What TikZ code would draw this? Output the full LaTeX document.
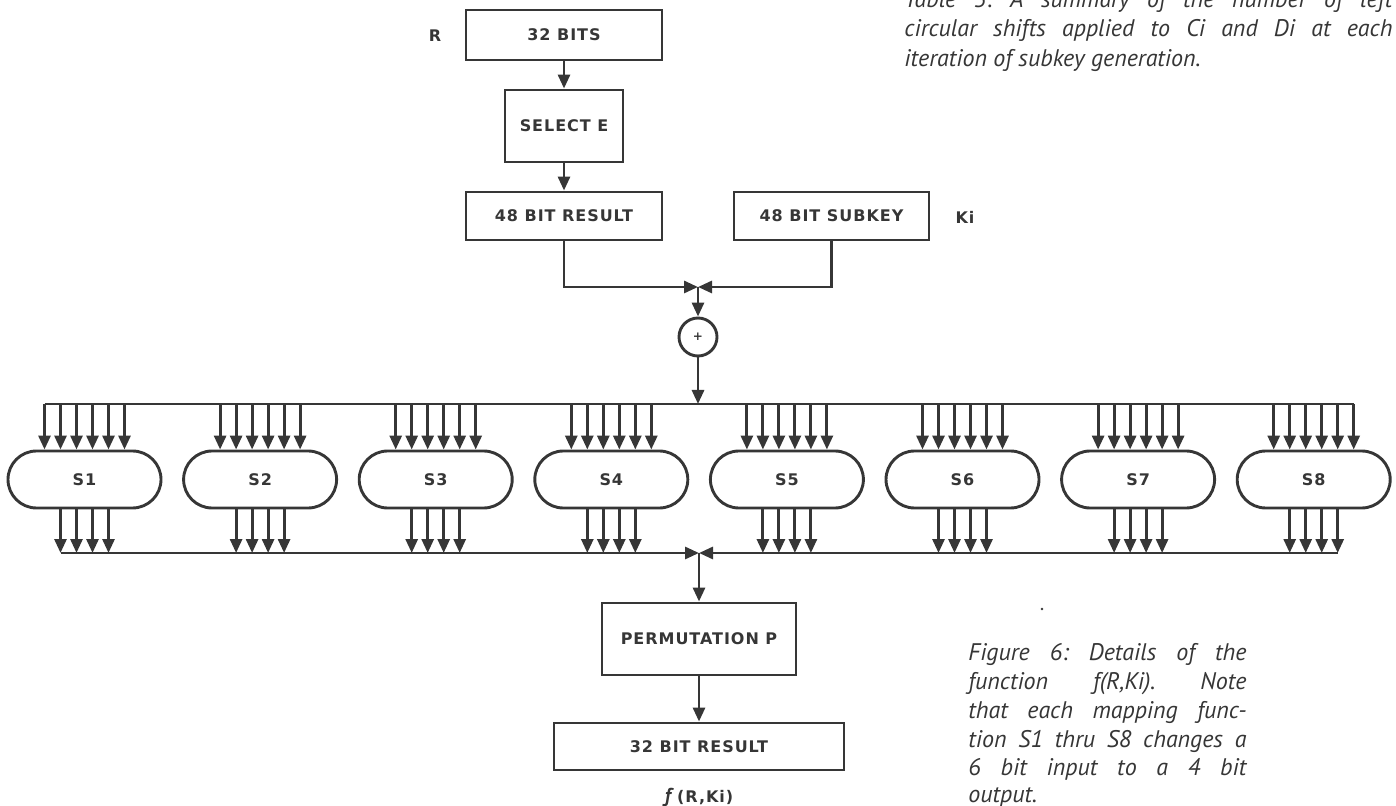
\documentclass[tikz,border=0pt]{standalone}
\usepackage{fontspec}
\usepackage{xcolor}
\usetikzlibrary{arrows.meta,shapes.misc}
\definecolor{ink}{HTML}{363636}
\newfontfamily\lettering[LetterSpace=6]{DejaVu Sans}
\newfontfamily\capfont{PT Sans}
\newcommand\jline[2]{\makebox[#1][s]{#2}}
\frenchspacing

\begin{document}
\begin{tikzpicture}[x=0.5pt,y=-0.5pt,line width=1.45pt,color=ink,
    font=\lettering\bfseries\fontsize{8}{9}\selectfont,
    box/.style={draw,rectangle,inner sep=0pt},
    sbox/.style={draw,rounded rectangle,minimum width=76.5pt,minimum height=28.5pt,inner sep=0pt},
    arr/.style={-{Triangle[length=7pt,width=6pt]}},
    captxt/.style={anchor=base west,inner sep=0pt,font=\capfont\itshape\fontsize{12}{14}\selectfont}]
  \useasboundingbox (0,0) rectangle (1396,806);
  \clip (0,0) rectangle (1396,806);
  % upper chain
  \node[box,minimum width=98pt,minimum height=25pt] (bits) at (564,35) {32 BITS};
  \node[box,minimum width=59pt,minimum height=36pt] (sel) at (564,126) {SELECT E};
  \node[box,minimum width=98pt,minimum height=24pt] (res48) at (564,216) {48 BIT RESULT};
  \node[box,minimum width=97.5pt,minimum height=24pt] (key48) at (831.5,216) {48 BIT SUBKEY};
  \node (rlab) at (435,36) {R};
  \node (kilab) at (965,217) {Ki};
  \coordinate (join1) at (698,287);
  \node[draw,circle,minimum size=19pt,inner sep=0pt,font=\lettering\bfseries\fontsize{6}{6}\selectfont] (xor) at (698,337) {+};
  \coordinate (tap) at (698,404);
  \coordinate (join2) at (699,553);
  \draw[arr] (bits.south) -- (sel.north);
  \draw[arr] (sel.south) -- (res48.north);
  \draw[arr] (res48.south) |- (join1);
  \draw[arr] (key48.south) |- (join1);
  \draw[arr] (join1) -- (xor.north);
  \draw[arr] (xor.south) -- (tap);
  % s-boxes
  \foreach \i in {1,...,8}{
    \pgfmathsetmacro{\sx}{84.5+(\i-1)*175.6}
    \node[sbox] (s\i) at (\sx,479.5) {S\i};
    \foreach \d in {-20,-12,-4,4,12,20}{\draw[arr] ([xshift=\d pt]s\i.north |- tap) -- ([xshift=\d pt]s\i.north);}
    \foreach \d in {-12,-4,4,12}{\draw[arr] ([xshift=\d pt]s\i.south) -- ([xshift=\d pt]s\i.south |- join2);}}
  \draw ([xshift=-20pt]s1.north |- tap) -- ([xshift=20pt]s8.north |- tap);
  \draw[arr] ([xshift=-12pt]s1.south |- join2) -- (join2);
  \draw[arr] ([xshift=12pt]s8.south |- join2) -- (join2);
  % lower chain
  \node[box,minimum width=97pt,minimum height=36pt] (perm) at (699,639) {PERMUTATION P};
  \node[box,minimum width=145pt,minimum height=23.5pt] (res32) at (699,746.5) {32 BIT RESULT};
  \draw[arr] (join2) -- (perm.north);
  \draw[arr] (perm.south) -- (res32.north);
  \node (flab) at (699,797) {{\capfont\itshape\fontsize{10}{10}\selectfont f} (R,Ki)};
  \node[circle,fill,inner sep=0.5pt] (speck) at (1042,609) {};
  % captions
  \foreach \b/\t in {8/{Table 3: A summary of the number of left},37/{circular shifts applied to Ci and Di at each}}
    \node[captxt] (t\b) at (903,\b) {\jline{244pt}{\t}};
  \node[captxt] (t67) at (903,67) {iteration of subkey generation.};
  \foreach \b/\t in {660/{Figure 6: Details of the},689/{function f(R,Ki). Note},718/{that each mapping func-},747/{tion S1 thru S8 changes a},775/{6 bit input to a 4 bit}}
    \node[captxt] (f\b) at (967,\b) {\jline{139pt}{\t}};
  \node[captxt] (f802) at (967,802) {output.};
\end{tikzpicture}
\end{document}
